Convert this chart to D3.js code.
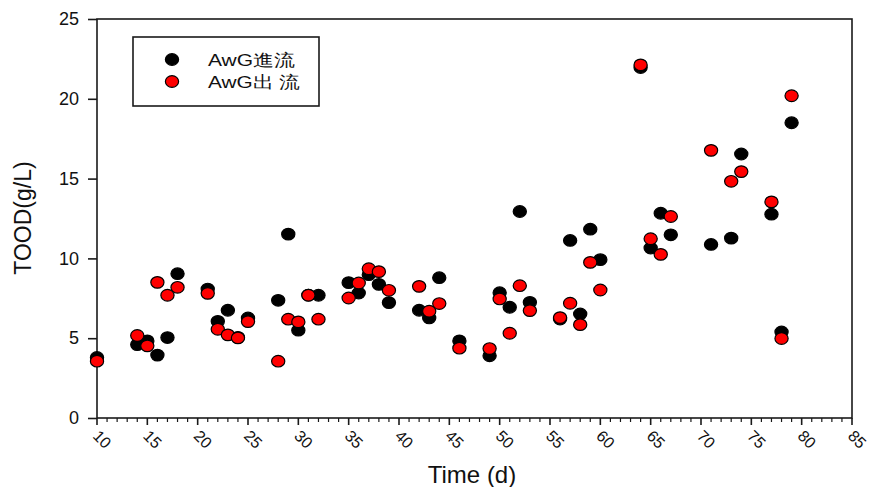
<!DOCTYPE html>
<html>
<head>
<meta charset="utf-8">
<script src="https://cdn.jsdelivr.net/npm/d3@7"></script>
<style>
  html, body { margin: 0; padding: 0; background: #fff; }
  svg { display: block; }
  text { font-family: "Liberation Sans", Arial, sans-serif; fill: #111; }
</style>
</head>
<body>
<svg id="chart" width="871" height="487"></svg>
<script>
// ---- data ----
const days = [10,14,15,16,17,18,21,22,23,24,25,28,29,30,31,32,35,36,37,38,39,42,43,44,46,49,50,51,52,53,56,57,58,59,60,64,65,66,67,71,73,74,77,78,79];
const influent = [3.79,4.6,4.83,3.94,5.04,9.04,8.08,6.06,6.75,5.05,6.27,7.375,11.52,5.5,7.7,7.69,8.48,7.83,8.98,8.375,7.23,6.75,6.27,8.79,4.83,3.9,7.85,6.94,12.94,7.25,6.2,11.125,6.52,11.83,9.92,21.96,10.65,12.83,11.48,10.875,11.27,16.54,12.77,5.39,18.5];
const effluent = [3.56,5.17,4.52,8.5,7.69,8.19,7.81,5.56,5.21,5.02,6.04,3.56,6.19,6.02,7.69,6.19,7.52,8.46,9.35,9.17,8.0,8.25,6.69,7.17,4.375,4.35,7.46,5.31,8.29,6.73,6.29,7.19,5.85,9.75,8.02,22.125,11.23,10.25,12.625,16.77,14.83,15.44,13.54,4.98,20.19];
const seriesNames = ["AwG進流", "AwG出 流"];
const seriesColors = ["#000000", "#ff0000"];
const xTicks = [10,15,20,25,30,35,40,45,50,55,60,65,70,75,80,85];
const yTicks = [0,5,10,15,20,25];
const xTitle = "Time (d)";
const yTitle = "TOOD(g/L)";

(function () {
// ---- layout ----
const svg = d3.select("#chart");
const pL = 97, pR = 852, pT = 19, pB = 418;
const x = d3.scaleLinear().domain([10, 85]).range([pL, pR]);
const y = d3.scaleLinear().domain([0, 25]).range([pB, pT]);

// frame
svg.append("rect")
  .attr("x", pL).attr("y", pT)
  .attr("width", pR - pL).attr("height", pB - pT)
  .attr("fill", "none").attr("stroke", "#1a1a1a").attr("stroke-width", 1.6);

// x axis ticks (major every 5, minor every 1)
const minor = d3.range(10, 86, 1);
svg.append("g").selectAll("line").data(minor).join("line")
  .attr("x1", d => x(d)).attr("x2", d => x(d))
  .attr("y1", pB).attr("y2", d => pB + (d % 5 === 0 ? 7 : 4))
  .attr("stroke", "#1a1a1a").attr("stroke-width", d => d % 5 === 0 ? 1.6 : 1.2);

// x tick labels (rotated)
svg.append("g").selectAll("text").data(xTicks).join("text")
  .attr("transform", d => `translate(${x(d) - 1},${pB + 15}) rotate(45)`)
  .attr("font-size", 16)
  .attr("text-anchor", "start")
  .attr("dy", "0.35em")
  .text(d => d);

// y ticks
const yAxis = d3.axisLeft(y).tickValues(yTicks).tickSize(9).tickPadding(9);
const gy = svg.append("g").attr("transform", `translate(${pL},0)`).call(yAxis);
gy.select(".domain").remove();
gy.selectAll(".tick line").attr("stroke", "#1a1a1a").attr("stroke-width", 1.6);
gy.selectAll(".tick text").attr("font-size", 18).attr("font-family", "Liberation Sans, Arial, sans-serif").attr("fill", "#111");

// titles
svg.append("text")
  .attr("x", 472).attr("y", 483)
  .attr("text-anchor", "middle")
  .attr("font-size", 24)
  .text(xTitle);
svg.append("text")
  .attr("transform", `translate(31,218) rotate(-90)`)
  .attr("text-anchor", "middle")
  .attr("font-size", 23)
  .text(yTitle);

// points
const rx = 6.6, ry = 5.8;
[influent, effluent].forEach((vals, i) => {
  svg.append("g").selectAll("ellipse").data(days.map((d, j) => [d, vals[j]])).join("ellipse")
    .attr("cx", d => x(d[0])).attr("cy", d => y(d[1]))
    .attr("rx", rx).attr("ry", ry)
    .attr("fill", seriesColors[i])
    .attr("stroke", "#000").attr("stroke-width", 1.2);
});

// legend
const lg = svg.append("g");
lg.append("rect").attr("x", 133).attr("y", 37).attr("width", 186).attr("height", 69)
  .attr("fill", "#fff").attr("stroke", "#1a1a1a").attr("stroke-width", 1.6);
seriesNames.forEach((name, i) => {
  const cy = 59.5 + i * 22;
  lg.append("ellipse").attr("cx", 172).attr("cy", cy).attr("rx", rx).attr("ry", ry)
    .attr("fill", seriesColors[i]).attr("stroke", "#000").attr("stroke-width", 1.2);
  lg.append("text").attr("x", 208).attr("y", cy).attr("dy", "0.36em")
    .attr("font-size", 17)
    .attr("textLength", i === 0 ? 87 : 92)
    .attr("lengthAdjust", "spacingAndGlyphs")
    .text(name);
});
})();
</script>
</body>
</html>
